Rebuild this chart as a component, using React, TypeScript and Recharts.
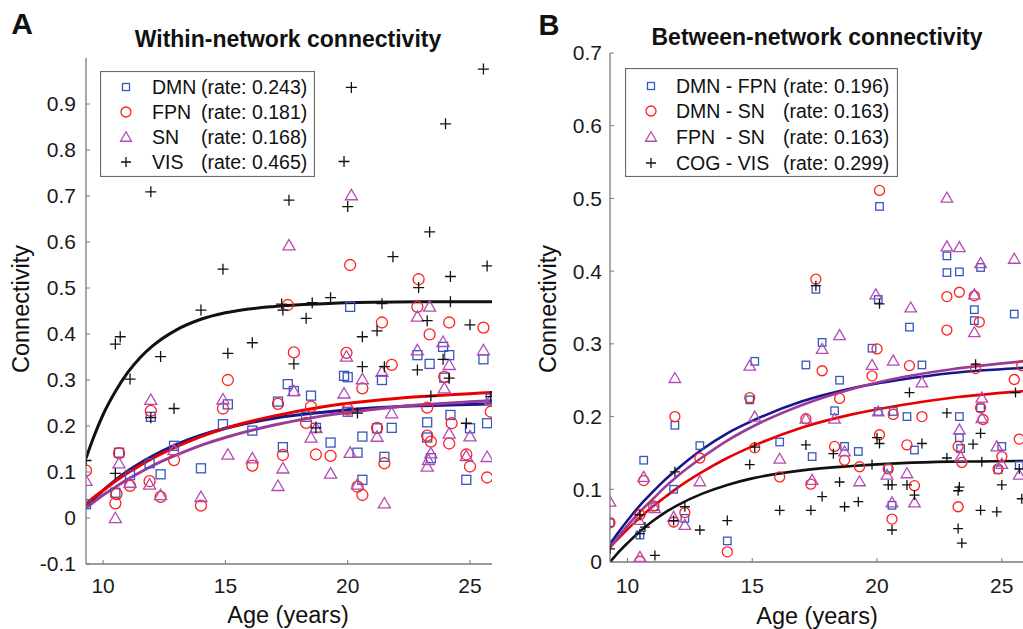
import React from "react";
import { ComposedChart, Scatter, Line, XAxis, YAxis, Legend } from "recharts";

type Pt = [number, number];
type Kind = "square" | "circle" | "triangle" | "plus";

// axis ticks
const ageTicks = [10, 15, 20, 25];
const withinTicks = [-0.1, 0, 0.1, 0.2, 0.3, 0.4, 0.5, 0.6, 0.7, 0.8, 0.9];
const betweenTicks = [0, 0.1, 0.2, 0.3, 0.4, 0.5, 0.6, 0.7];

// legend text
const withinNames = ["DMN", "FPN", "SN", "VIS"];
const withinRates = ["0.243", "0.181", "0.168", "0.465"];
const betweenNames = ["DMN - FPN", "DMN - SN", "FPN  - SN", "COG - VIS"];
const betweenRates = ["0.196", "0.163", "0.163", "0.299"];

// A: within-network, [age, connectivity]
const withinDMN: Pt[] = [
  [9.3, 0.03], [10.5, 0.055], [10.65, 0.142], [11.1, 0.093], [11.9, 0.119], [11.95, 0.22], [12.35, 0.095],
  [12.9, 0.157], [14.0, 0.108], [14.9, 0.204], [15.1, 0.247], [16.1, 0.19], [17.15, 0.253], [17.35, 0.154],
  [17.55, 0.291], [17.8, 0.276], [18.3, 0.22], [18.5, 0.266], [18.7, 0.196], [19.3, 0.164], [19.85, 0.309],
  [20.0, 0.306], [20.0, 0.231], [20.1, 0.459], [20.4, 0.142], [20.6, 0.177], [20.6, 0.083], [21.2, 0.195],
  [21.4, 0.3], [21.5, 0.133], [21.8, 0.196], [22.85, 0.354], [23.25, 0.208], [23.25, 0.175], [23.35, 0.335],
  [23.4, 0.13], [23.9, 0.372], [23.95, 0.305], [24.15, 0.354], [24.2, 0.224], [24.85, 0.083], [25.0, 0.195],
  [25.55, 0.345], [25.7, 0.206], [25.85, 0.26],
];
const withinFPN: Pt[] = [
  [9.3, 0.103], [10.5, 0.032], [10.55, 0.052], [10.65, 0.141], [11.1, 0.07], [11.9, 0.08], [11.95, 0.233],
  [12.35, 0.046], [12.9, 0.126], [14.0, 0.027], [14.9, 0.238], [15.1, 0.3], [16.1, 0.114], [17.15, 0.248],
  [17.35, 0.137], [17.55, 0.463], [17.8, 0.36], [18.3, 0.207], [18.5, 0.242], [18.7, 0.138], [19.3, 0.135],
  [19.95, 0.359], [20.0, 0.236], [20.1, 0.55], [20.4, 0.068], [20.6, 0.05], [20.6, 0.282], [21.2, 0.196],
  [21.4, 0.425], [21.5, 0.119], [21.8, 0.333], [22.85, 0.459], [22.9, 0.519], [23.25, 0.24], [23.25, 0.179],
  [23.35, 0.399], [23.4, 0.166], [23.95, 0.307], [24.15, 0.425], [24.15, 0.162], [24.25, 0.206],
  [24.85, 0.138], [25.0, 0.112], [25.55, 0.414], [25.7, 0.088], [25.85, 0.231],
];
const withinSN: Pt[] = [
  [9.3, 0.081], [10.5, 0.0], [10.65, 0.119], [11.1, 0.077], [11.9, 0.073], [11.95, 0.257], [12.35, 0.05],
  [12.9, 0.148], [14.0, 0.046], [14.9, 0.258], [15.1, 0.138], [16.1, 0.13], [17.15, 0.07], [17.35, 0.108],
  [17.6, 0.593], [17.8, 0.276], [18.5, 0.175], [18.7, 0.196], [19.3, 0.097], [19.85, 0.271], [19.95, 0.351],
  [20.1, 0.142], [20.15, 0.702], [20.4, 0.073], [20.6, 0.302], [21.2, 0.177], [21.4, 0.318], [21.5, 0.032],
  [21.8, 0.228], [22.85, 0.438], [22.85, 0.365], [23.25, 0.112], [23.3, 0.126], [23.35, 0.46], [23.4, 0.141],
  [23.9, 0.383], [23.95, 0.282], [24.15, 0.333], [24.15, 0.184], [24.85, 0.135], [25.0, 0.178],
  [25.55, 0.365], [25.7, 0.133], [25.85, 0.257],
];
const withinVIS: Pt[] = [
  [9.3, 0.125], [10.5, 0.378], [10.5, 0.097], [10.7, 0.394], [11.1, 0.302], [11.95, 0.709], [11.95, 0.218],
  [12.35, 0.351], [12.9, 0.238], [14.0, 0.452], [14.9, 0.541], [15.1, 0.358], [16.1, 0.381], [17.3, 0.465],
  [17.35, 0.452], [17.6, 0.691], [17.8, 0.335], [18.3, 0.434], [18.55, 0.468], [18.7, 0.196], [19.3, 0.479],
  [19.85, 0.775], [20.0, 0.677], [20.15, 0.936], [20.4, 0.228], [20.6, 0.394], [20.6, 0.329], [21.2, 0.407],
  [21.4, 0.466], [21.5, 0.329], [21.85, 0.568], [22.85, 0.322], [22.9, 0.501], [23.25, 0.429], [23.35, 0.622],
  [23.4, 0.265], [23.9, 0.345], [24.0, 0.857], [24.15, 0.304], [24.2, 0.525], [24.2, 0.47], [24.85, 0.206],
  [25.0, 0.42], [25.55, 0.976], [25.7, 0.548], [25.85, 0.264],
];

// B: between-network
const betweenDMNFPN: Pt[] = [
  [9.3, 0.054], [10.5, 0.037], [10.65, 0.14], [11.1, 0.076], [11.85, 0.1], [11.9, 0.188], [12.3, 0.06],
  [12.9, 0.16], [14.0, 0.029], [14.9, 0.223], [15.1, 0.276], [16.1, 0.165], [17.15, 0.271], [17.4, 0.145],
  [17.55, 0.375], [17.8, 0.302], [18.3, 0.208], [18.5, 0.25], [18.7, 0.159], [19.25, 0.152], [19.8, 0.294],
  [20.05, 0.361], [20.1, 0.489], [20.05, 0.207], [20.45, 0.129], [20.6, 0.078], [20.65, 0.207], [21.2, 0.2],
  [21.3, 0.323], [21.5, 0.154], [21.8, 0.271], [22.8, 0.421], [22.8, 0.398], [23.3, 0.399], [23.3, 0.2],
  [23.3, 0.171], [23.35, 0.156], [23.9, 0.347], [23.9, 0.332], [24.15, 0.405], [24.15, 0.212],
  [24.85, 0.127], [25.0, 0.159], [25.5, 0.341], [25.7, 0.133],
];
const betweenDMNSN: Pt[] = [
  [9.3, 0.054], [10.5, 0.001], [10.5, 0.065], [10.65, 0.112], [11.05, 0.077], [11.85, 0.055], [11.9, 0.2],
  [12.3, 0.068], [12.9, 0.143], [14.0, 0.014], [14.9, 0.226], [15.1, 0.157], [16.1, 0.117], [17.15, 0.197],
  [17.35, 0.107], [17.55, 0.389], [17.8, 0.263], [18.3, 0.159], [18.5, 0.225], [18.7, 0.14], [19.3, 0.131],
  [19.8, 0.256], [20.0, 0.293], [20.1, 0.511], [20.1, 0.175], [20.45, 0.128], [20.6, 0.059], [20.65, 0.203],
  [21.2, 0.161], [21.3, 0.27], [21.5, 0.105], [21.8, 0.2], [22.8, 0.365], [22.8, 0.319], [23.25, 0.159],
  [23.25, 0.076], [23.3, 0.371], [23.4, 0.137], [23.9, 0.366], [23.95, 0.266], [24.1, 0.33], [24.15, 0.212],
  [24.25, 0.196], [24.85, 0.128], [25.0, 0.145], [25.5, 0.251], [25.7, 0.169], [25.8, 0.27],
];
const betweenFPNSN: Pt[] = [
  [9.3, 0.083], [10.5, 0.007], [10.45, 0.058], [10.65, 0.117], [11.1, 0.074], [11.85, 0.062], [11.9, 0.253],
  [12.3, 0.051], [12.9, 0.111], [14.9, 0.27], [15.1, 0.2], [16.1, 0.142], [17.15, 0.197], [17.4, 0.113],
  [17.8, 0.293], [18.3, 0.197], [18.5, 0.312], [18.7, 0.152], [19.3, 0.111], [19.8, 0.271], [19.95, 0.368],
  [20.05, 0.207], [20.4, 0.12], [20.6, 0.082], [20.65, 0.277], [21.2, 0.122], [21.35, 0.35], [21.5, 0.082],
  [21.8, 0.247], [22.8, 0.501], [22.8, 0.434], [23.3, 0.433], [23.3, 0.182], [23.35, 0.145], [23.9, 0.368],
  [23.9, 0.316], [24.15, 0.411], [24.2, 0.226], [24.2, 0.198], [24.8, 0.159], [25.0, 0.135], [25.5, 0.417],
  [25.7, 0.12],
];
const betweenCOGVIS: Pt[] = [
  [9.3, 0.018], [10.5, 0.039], [10.5, 0.065], [10.7, 0.048], [11.1, 0.009], [11.85, 0.057], [11.9, 0.124],
  [12.3, 0.076], [12.9, 0.044], [14.0, 0.057], [14.9, 0.134], [15.1, 0.158], [16.1, 0.071], [17.15, 0.161],
  [17.35, 0.071], [17.55, 0.38], [17.8, 0.09], [18.25, 0.149], [18.5, 0.11], [18.7, 0.076], [19.25, 0.083],
  [19.8, 0.134], [20.0, 0.171], [20.1, 0.355], [20.1, 0.163], [20.45, 0.106], [20.6, 0.106], [20.6, 0.044],
  [21.2, 0.106], [21.3, 0.233], [21.5, 0.092], [21.8, 0.163], [22.8, 0.143], [22.8, 0.205], [23.25, 0.098],
  [23.3, 0.103], [23.25, 0.046], [23.4, 0.026], [23.85, 0.162], [23.95, 0.272], [24.15, 0.177], [24.2, 0.138],
  [24.15, 0.071], [24.8, 0.069], [25.0, 0.106], [25.55, 0.233], [25.7, 0.128], [25.8, 0.087],
];

// fitted curves, read at these ages
const fitAges = [9.3, 9.6, 10, 10.5, 11, 11.5, 12, 13, 14, 15, 17, 19, 21, 23, 25.9];
const fitWithinVIS = [0.13, 0.174, 0.225, 0.275, 0.316, 0.348, 0.373, 0.409, 0.432, 0.446, 0.46, 0.466, 0.469, 0.47, 0.47];
const fitWithinDMN = [0.025, 0.041, 0.06, 0.082, 0.102, 0.119, 0.134, 0.16, 0.18, 0.195, 0.217, 0.23, 0.239, 0.244, 0.248];
const fitWithinFPN = [0.03, 0.044, 0.06, 0.08, 0.098, 0.114, 0.129, 0.155, 0.177, 0.195, 0.222, 0.242, 0.255, 0.264, 0.273];
const fitWithinSN = [0.022, 0.034, 0.05, 0.067, 0.084, 0.099, 0.113, 0.137, 0.158, 0.175, 0.202, 0.222, 0.236, 0.246, 0.255];
const fitBetweenCOGVIS = [0, 0.012, 0.026, 0.042, 0.056, 0.068, 0.078, 0.094, 0.106, 0.115, 0.126, 0.132, 0.136, 0.138, 0.139];
const fitBetweenDMNFPN = [0.025, 0.039, 0.057, 0.078, 0.096, 0.113, 0.128, 0.155, 0.177, 0.194, 0.221, 0.239, 0.251, 0.26, 0.267];
const fitBetweenDMNSN = [0.02, 0.031, 0.045, 0.061, 0.076, 0.089, 0.102, 0.124, 0.143, 0.159, 0.185, 0.203, 0.216, 0.226, 0.235];
const fitBetweenFPNSN = [0.02, 0.033, 0.05, 0.069, 0.086, 0.103, 0.118, 0.144, 0.167, 0.186, 0.216, 0.238, 0.254, 0.265, 0.276];

const FONT = '"Liberation Sans", Arial, Helvetica, sans-serif';
const AXIS = "#7a7a7a";

const BLUE = "#3557c0";
const NAVY = "#17168a";
const RED = "#ff2020";
const RED_LINE = "#e80000";
const MAG = "#b24bb5";
const MAG_LINE = "#9b3a98";
const BLK = "#111111";

function marker(kind: Kind, color: string, size: number, cx: number, cy: number) {
  const h = size / 2;
  const sw = 1.3;
  if (kind === "square")
    return <rect x={cx - h} y={cy - h} width={size} height={size} fill="none" stroke={color} strokeWidth={sw} />;
  if (kind === "circle") return <circle cx={cx} cy={cy} r={h} fill="none" stroke={color} strokeWidth={sw} />;
  if (kind === "triangle")
    return (
      <path
        d={`M${cx},${cy - h * 1.05}L${cx + h * 1.1},${cy + h * 0.85}L${cx - h * 1.1},${cy + h * 0.85}Z`}
        fill="none"
        stroke={color}
        strokeWidth={sw}
      />
    );
  return <path d={`M${cx - h},${cy}H${cx + h}M${cx},${cy - h}V${cy + h}`} stroke={color} strokeWidth={sw} />;
}

const toXY = (pts: Pt[]) => pts.map(([x, y]) => ({ x, y }));
const fitXY = (vals: number[]) => fitAges.map((x, i) => ({ x, y: vals[i] }));
const fmt = (v: number) => (v === 0 ? "0" : v.toFixed(1));

type Series = { pts: Pt[]; fit: number[]; kind: Kind; color: string; line: string; size: number };

function LegendBox(props: {
  w: number; h: number; rowY: number[]; nameX: number; rateX: number;
  names: string[]; rates: string[]; series: Series[];
}) {
  const { w, h, rowY, nameX, rateX, names, rates, series } = props;
  return (
    <svg width={w} height={h} style={{ display: "block", fontFamily: FONT }}>
      <rect x={0.5} y={0.5} width={w - 1} height={h - 1} fill="#fff" stroke="#6a6a6a" strokeWidth={1.2} />
      {names.map((n, i) => (
        <g key={n}>
          {marker(series[i].kind, series[i].color, series[i].kind === "square" ? 7 : 10, 26, rowY[i])}
          <text x={nameX} y={rowY[i]} dominantBaseline="central" fontSize={19.5} fill="#111" style={{ whiteSpace: "pre" }}>
            {n}
          </text>
          <text x={rateX} y={rowY[i]} dominantBaseline="central" fontSize={19.5} fill="#111">
            (rate: {rates[i]})
          </text>
        </g>
      ))}
    </svg>
  );
}

function Panel(props: {
  left: number; series: Series[]; lineOrder: number[]; lineWidth: number;
  margin: { top: number; right: number; bottom: number; left: number };
  yWidth: number; xHeight: number; xDomain: [number, number]; yDomain: [number, number]; yTicks: number[];
  xTickMargin: number; yTickMargin: number; legend: React.ReactNode; legendPos: { left: number; top: number; width: number };
}) {
  const p = props;
  return (
    <div style={{ position: "absolute", left: p.left, top: 0 }}>
      <ComposedChart width={511} height={629} margin={p.margin}>
        <XAxis
          type="number" dataKey="x" domain={p.xDomain} ticks={ageTicks} interval={0} allowDataOverflow
          height={p.xHeight} tickSize={-4} tickMargin={p.xTickMargin}
          axisLine={{ stroke: AXIS, strokeWidth: 1.3 }} tickLine={{ stroke: AXIS }}
          tick={{ fill: "#1a1a1a", fontSize: 21, fontFamily: FONT }}
        />
        <YAxis
          type="number" dataKey="y" domain={p.yDomain} ticks={p.yTicks} interval={0} allowDataOverflow
          width={p.yWidth} tickSize={-4} tickMargin={p.yTickMargin} tickFormatter={fmt}
          axisLine={{ stroke: AXIS, strokeWidth: 1.3 }} tickLine={{ stroke: AXIS }}
          tick={{ fill: "#1a1a1a", fontSize: 21, fontFamily: FONT }}
        />
        {p.series.map((s, i) => (
          <Scatter
            key={"s" + i}
            data={toXY(s.pts)}
            dataKey="y"
            isAnimationActive={false}
            shape={(sp: any) => marker(s.kind, s.color, s.size, sp.cx, sp.cy)}
          />
        ))}
        {p.lineOrder.map((i) => (
          <Line
            key={"l" + i}
            data={fitXY(p.series[i].fit)}
            dataKey="y"
            type="monotone"
            stroke={p.series[i].line}
            strokeWidth={p.lineWidth}
            dot={false}
            activeDot={false}
            isAnimationActive={false}
          />
        ))}
        <Legend
          layout="vertical"
          align="center"
          verticalAlign="middle"
          wrapperStyle={{ left: p.legendPos.left, top: p.legendPos.top, width: p.legendPos.width }}
          content={() => p.legend}
        />
      </ComposedChart>
    </div>
  );
}

const withinSeries: Series[] = [
  { pts: withinDMN, fit: fitWithinDMN, kind: "square", color: BLUE, line: NAVY, size: 9 },
  { pts: withinFPN, fit: fitWithinFPN, kind: "circle", color: RED, line: RED_LINE, size: 11 },
  { pts: withinSN, fit: fitWithinSN, kind: "triangle", color: MAG, line: MAG_LINE, size: 11 },
  { pts: withinVIS, fit: fitWithinVIS, kind: "plus", color: BLK, line: BLK, size: 11 },
];
const betweenSeries: Series[] = [
  { pts: betweenDMNFPN, fit: fitBetweenDMNFPN, kind: "square", color: BLUE, line: NAVY, size: 7.5 },
  { pts: betweenDMNSN, fit: fitBetweenDMNSN, kind: "circle", color: RED, line: RED_LINE, size: 10 },
  { pts: betweenFPNSN, fit: fitBetweenFPNSN, kind: "triangle", color: MAG, line: MAG_LINE, size: 10.5 },
  { pts: betweenCOGVIS, fit: fitBetweenCOGVIS, kind: "plus", color: BLK, line: BLK, size: 10 },
];

const centered = (x: number, y: number, size: number, bold: boolean, rotate = false): React.CSSProperties => ({
  position: "absolute",
  left: x,
  top: y,
  transform: `translate(-50%, -50%)${rotate ? " rotate(-90deg)" : ""}`,
  fontSize: size,
  fontWeight: bold ? 700 : 400,
  lineHeight: 1,
  whiteSpace: "nowrap",
  color: "#111",
});

export default function App() {
  return (
    <div style={{ position: "absolute", left: 0, top: 0, width: 1023, height: 629, background: "#fff", fontFamily: FONT, overflow: "hidden" }}>
      <Panel
        left={0}
        series={withinSeries}
        lineOrder={[3, 0, 2, 1]}
        lineWidth={3}
        margin={{ top: 58, right: 19, bottom: 0, left: 0 }}
        yWidth={86}
        xHeight={65}
        xDomain={[9.3, 25.9]}
        yDomain={[-0.1, 1.0]}
        yTicks={withinTicks}
        xTickMargin={18}
        yTickMargin={14}
        legendPos={{ left: 100, top: 71, width: 215 }}
        legend={
          <LegendBox w={215} h={106} rowY={[16, 41, 66, 91]} nameX={52} rateX={101}
            names={withinNames} rates={withinRates} series={withinSeries} />
        }
      />
      <Panel
        left={512}
        series={betweenSeries}
        lineOrder={[3, 1, 0, 2]}
        lineWidth={2.6}
        margin={{ top: 53, right: 0, bottom: 0, left: 0 }}
        yWidth={98}
        xHeight={67}
        xDomain={[9.3, 25.85]}
        yDomain={[0, 0.7]}
        yTicks={betweenTicks}
        xTickMargin={20}
        yTickMargin={12}
        legendPos={{ left: 113, top: 68, width: 273 }}
        legend={
          <LegendBox w={273} h={109} rowY={[18, 43, 69, 95]} nameX={51} rateX={158}
            names={betweenNames} rates={betweenRates} series={betweenSeries} />
        }
      />
      <div style={centered(22, 24, 30, true)}>A</div>
      <div style={centered(549, 25, 29, true)}>B</div>
      <div style={centered(288, 39, 23, true)}>Within-network connectivity</div>
      <div style={centered(817, 37, 23, true)}>Between-network connectivity</div>
      <div style={centered(288, 616, 23.5, false)}>Age (years)</div>
      <div style={centered(817, 617, 23.5, false)}>Age (years)</div>
      <div style={centered(22, 309, 23.5, false, true)}>Connectivity</div>
      <div style={centered(549, 309, 23.5, false, true)}>Connectivity</div>
    </div>
  );
}
